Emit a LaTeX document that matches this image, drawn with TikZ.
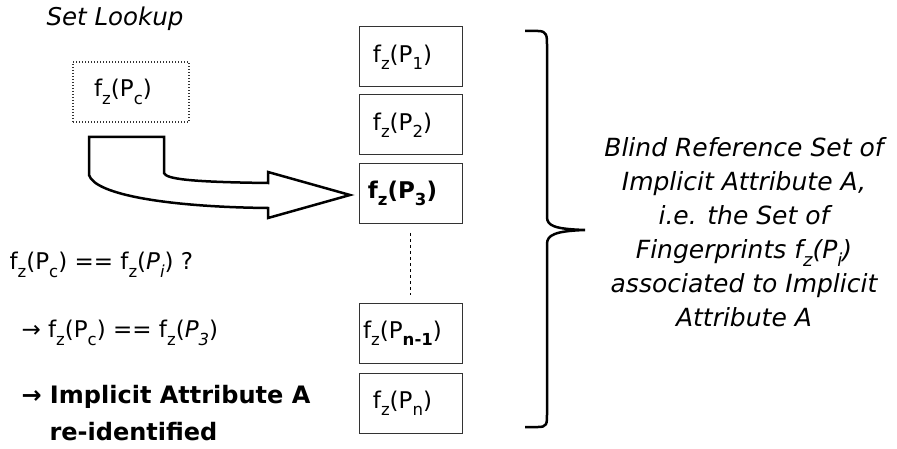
\documentclass[tikz,border=0pt]{standalone}
\usepackage{fontspec}
\setmainfont{DejaVu Sans}
\newcommand{\sbs}[1]{\raisebox{-0.32em}{\scalebox{0.72}{#1}}}
\newcommand{\fz}[1]{f\sbs{z}(P\sbs{#1})}
\newcommand{\fzit}[1]{f\sbs{z}(\textit{P\sbs{#1}})}
\begin{document}
\begin{tikzpicture}[x=1pt,y=-1pt,font=\fontsize{23}{27}\selectfont,
	fpbox/.style={draw=black!80, line width=1pt, minimum width=103pt, minimum height=60pt, inner sep=0pt,
		execute at end node=\hspace*{16pt}},
	boldtext/.style={anchor=west, font=\fontsize{24}{28}\selectfont\bfseries}]
	\useasboundingbox (0,0) rectangle (897,449);
	\node (title) at (115,19) {\fontsize{24.5}{28}\selectfont\textit{Set Lookup}};
	\node [fpbox, dotted, line width=1.5pt, minimum width=116pt] (pc) at (131,92) {\fz{c}};
	\node [fpbox] (b1) at (410.5,57) {\fz{1}};
	\node [fpbox] (b2) at (410.5,125) {\fz{2}};
	\node [fpbox] (b3) at (410.5,193.5) {\bfseries\fz{3}};
	\node [fpbox] (bn1) at (410.5,333) {f\sbs{z}(P\sbs{\textbf{n-1}})};
	\node [fpbox] (bn) at (410.5,403.5) {\fz{n}};
	\draw [dashed, shorten <=9pt, shorten >=8pt] (b3) -- (bn1);
	\draw [line width=2.5pt, line join=miter] (89,137) -- (164,137) -- (164,173)
		.. controls (166,179) and (190,182) .. (268,183) -- (268,172) -- (350,195)
		-- (268,218) -- (268,208) .. controls (170,207) and (95,195) .. (89,175) -- cycle;
	\node [anchor=west] (cmp) at (6,265) {\fz{c} == \fzit{i} ?};
	\node [anchor=west] (match) at (18,333) {→ \fz{c} == \fzit{3}};
	\node [boldtext] (found) at (18,397) {→ Implicit Attribute A};
	\node [boldtext] (reid) at (46,432) {re-identified};
	\draw [line width=2.5pt] (525,31) -- (538,31) .. controls (547,31) and (547,36) .. (547,45)
		-- (547,217) .. controls (547,226) and (555,229) .. (585,230)
		.. controls (555,231) and (547,235) .. (547,244) -- (547,414)
		.. controls (547,424) and (547,427) .. (538,427) -- (525,427);
	\node [align=center, font=\fontsize{25}{34}\selectfont\itshape] (blind) at (744,232)
		{Blind Reference Set of\\ Implicit Attribute A,\\ i.e. the Set of\\
		Fingerprints f\sbs{z}(P\sbs{i})\\ associated to Implicit\\ Attribute A};
\end{tikzpicture}
\end{document}
